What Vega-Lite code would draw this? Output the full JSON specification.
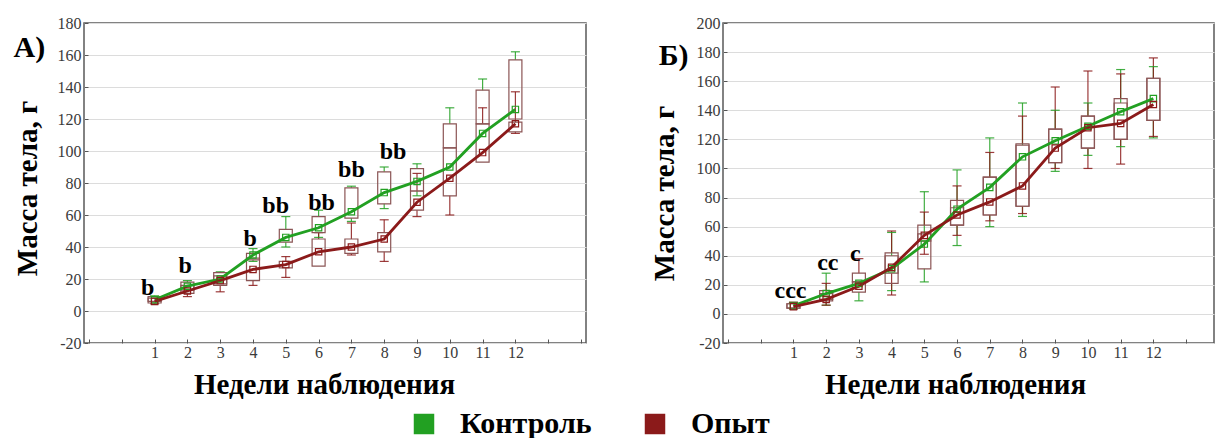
{
"$schema": "https://vega.github.io/schema/vega-lite/v6.json",
"padding": {"left": 12, "top": 14, "right": 2, "bottom": 2},
"background": "white",
"config": {
  "font": "Liberation Serif",
  "view": {"stroke": "#5a5a5a", "strokeWidth": 1.5},
  "axis": {"labelFont": "Liberation Serif", "titleFont": "Liberation Serif", "labelColor": "#3a3a3a", "labelFontSize": 16, "titleFontSize": 29, "titleFontWeight": "bold", "titleColor": "black", "domain": false, "gridColor": "#dcdcdc", "tickColor": "#555555", "tickSize": -4, "labelFlush": false, "labelOverlap": false},
  "concat": {"spacing": 62}
},
"datasets": {
  "stats": [
{"panel":"A","week":1,"group":"Контроль","q1":6,"q3":9,"min":6,"max":9.5,"mean":7},
{"panel":"A","week":1,"group":"Опыт","q1":5,"q3":8,"min":4.5,"max":8,"mean":6},
{"panel":"A","week":2,"group":"Контроль","q1":13,"q3":18,"min":13,"max":19,"mean":15.5},
{"panel":"A","week":2,"group":"Опыт","q1":11,"q3":16,"min":9,"max":16,"mean":12.5},
{"panel":"A","week":3,"group":"Контроль","q1":17,"q3":24,"min":17,"max":24.5,"mean":20},
{"panel":"A","week":3,"group":"Опыт","q1":16,"q3":22,"min":12,"max":22,"mean":19},
{"panel":"A","week":4,"group":"Контроль","q1":32,"q3":36,"min":31,"max":39,"mean":35},
{"panel":"A","week":4,"group":"Опыт","q1":19,"q3":33,"min":16,"max":33,"mean":26},
{"panel":"A","week":5,"group":"Контроль","q1":43,"q3":51,"min":40,"max":59,"mean":46},
{"panel":"A","week":5,"group":"Опыт","q1":27,"q3":31,"min":21,"max":34,"mean":29},
{"panel":"A","week":6,"group":"Контроль","q1":49,"q3":59,"min":46,"max":63,"mean":52},
{"panel":"A","week":6,"group":"Опыт","q1":28,"q3":45,"min":28,"max":49,"mean":37},
{"panel":"A","week":7,"group":"Контроль","q1":58,"q3":77,"min":56,"max":78,"mean":62},
{"panel":"A","week":7,"group":"Опыт","q1":36,"q3":45,"min":35,"max":55,"mean":40},
{"panel":"A","week":8,"group":"Контроль","q1":67,"q3":87,"min":64,"max":90,"mean":74},
{"panel":"A","week":8,"group":"Опыт","q1":37,"q3":49,"min":31,"max":57,"mean":45},
{"panel":"A","week":9,"group":"Контроль","q1":75,"q3":89,"min":72,"max":92,"mean":81},
{"panel":"A","week":9,"group":"Опыт","q1":63,"q3":75,"min":59,"max":86,"mean":68},
{"panel":"A","week":10,"group":"Контроль","q1":102,"q3":117,"min":102,"max":127,"mean":90},
{"panel":"A","week":10,"group":"Опыт","q1":72,"q3":102,"min":60,"max":102,"mean":83},
{"panel":"A","week":11,"group":"Контроль","q1":117,"q3":138,"min":117,"max":145,"mean":111},
{"panel":"A","week":11,"group":"Опыт","q1":93,"q3":117,"min":93,"max":127,"mean":99},
{"panel":"A","week":12,"group":"Контроль","q1":120,"q3":157,"min":120,"max":162,"mean":126},
{"panel":"A","week":12,"group":"Опыт","q1":112,"q3":118,"min":111,"max":137,"mean":117},
{"panel":"B","week":1,"group":"Контроль","q1":4,"q3":7,"min":3.5,"max":8,"mean":5.5},
{"panel":"B","week":1,"group":"Опыт","q1":4,"q3":7,"min":3.5,"max":8,"mean":5},
{"panel":"B","week":2,"group":"Контроль","q1":10,"q3":16,"min":6,"max":28,"mean":14},
{"panel":"B","week":2,"group":"Опыт","q1":9,"q3":14,"min":6,"max":21,"mean":10},
{"panel":"B","week":3,"group":"Контроль","q1":15,"q3":22,"min":9,"max":22,"mean":21},
{"panel":"B","week":3,"group":"Опыт","q1":22,"q3":28,"min":22,"max":38,"mean":19},
{"panel":"B","week":4,"group":"Контроль","q1":21,"q3":40,"min":16,"max":56,"mean":31},
{"panel":"B","week":4,"group":"Опыт","q1":28,"q3":42,"min":13,"max":57,"mean":32},
{"panel":"B","week":5,"group":"Контроль","q1":31,"q3":55,"min":22,"max":84,"mean":48},
{"panel":"B","week":5,"group":"Опыт","q1":50,"q3":61,"min":41,"max":70,"mean":54},
{"panel":"B","week":6,"group":"Контроль","q1":61,"q3":78,"min":47,"max":99,"mean":72},
{"panel":"B","week":6,"group":"Опыт","q1":61,"q3":73,"min":54,"max":88,"mean":68},
{"panel":"B","week":7,"group":"Контроль","q1":68,"q3":94,"min":60,"max":121,"mean":87},
{"panel":"B","week":7,"group":"Опыт","q1":68,"q3":94,"min":64,"max":111,"mean":77},
{"panel":"B","week":8,"group":"Контроль","q1":74,"q3":116,"min":67,"max":145,"mean":108},
{"panel":"B","week":8,"group":"Опыт","q1":74,"q3":117,"min":69,"max":136,"mean":88},
{"panel":"B","week":9,"group":"Контроль","q1":104,"q3":127,"min":98,"max":140,"mean":119},
{"panel":"B","week":9,"group":"Опыт","q1":104,"q3":127,"min":100,"max":156,"mean":114},
{"panel":"B","week":10,"group":"Контроль","q1":114,"q3":136,"min":109,"max":145,"mean":129},
{"panel":"B","week":10,"group":"Опыт","q1":114,"q3":136,"min":100,"max":167,"mean":128},
{"panel":"B","week":11,"group":"Контроль","q1":120,"q3":145,"min":115,"max":168,"mean":139},
{"panel":"B","week":11,"group":"Опыт","q1":120,"q3":148,"min":103,"max":165,"mean":131},
{"panel":"B","week":12,"group":"Контроль","q1":133,"q3":162,"min":121,"max":170,"mean":148},
{"panel":"B","week":12,"group":"Опыт","q1":133,"q3":162,"min":122,"max":176,"mean":144}
  ],
  "notes": [
{"panel":"A","week":0.79,"y":10,"t":"b"},
{"panel":"A","week":1.93,"y":23.5,"t":"b"},
{"panel":"A","week":3.91,"y":40.5,"t":"b"},
{"panel":"A","week":4.69,"y":61,"t":"bb"},
{"panel":"A","week":6.09,"y":63,"t":"bb"},
{"panel":"A","week":7.0,"y":84,"t":"bb"},
{"panel":"A","week":8.27,"y":95,"t":"bb"},
{"panel":"B","week":0.91,"y":11,"t":"ccc"},
{"panel":"B","week":2.05,"y":30,"t":"cc"},
{"panel":"B","week":2.89,"y":36.4,"t":"c"}
  ],
  "tags": [
{"panel":"A","week":-3.3,"y":159,"t":"А)"},
{"panel":"B","week":-3.12,"y":171,"t":"Б)"}
  ]
},
"hconcat": [
{
 "width": 502, "height": 320,
 "data": {"name": "stats"},
 "transform": [{"filter": "datum.panel === 'A'"}],
 "layer": [
  {"mark": {"type": "rule", "strokeWidth": 1.2, "opacity": 0.85},
   "encoding": {
    "x": {"field": "week", "type": "quantitative", "scale": {"domain": [-1, 14], "nice": false, "zero": false},
          "axis": {"values": [-1,0,1,2,3,4,5,6,7,8,9,10,11,12,13,14], "tickCount": 40, "labelExpr": "datum.value >= 1 && datum.value <= 12 ? '' + datum.value : ''", "labelOverlap": false, "labelFont": "Liberation Serif", "labelFontSize": 16, "grid": false, "labelPadding": 5, "title": "Недели наблюдения", "titleX": 240, "titleY": 50, "titleBaseline": "alphabetic", "titleAlign": "center"}},
    "y": {"field": "min", "type": "quantitative", "scale": {"domain": [-20, 180], "nice": false, "zero": false},
          "axis": {"values": [-20,0,20,40,60,80,100,120,140,160,180], "tickCount": 40, "labelExpr": "'' + datum.value", "labelOverlap": false, "labelFont": "Liberation Serif", "labelFontSize": 16, "grid": true, "labelPadding": 7, "title": "Масса тела, г", "titleX": -57, "titleY": 165, "titleBaseline": "middle", "titleAlign": "center"}},
    "y2": {"field": "q1"},
    "color": {"field": "group", "type": "nominal", "scale": {"domain": ["Контроль", "Опыт"], "range": ["#22a022", "#8b1a1a"]},
      "legend": {"title": null, "orient": "none", "legendX": 325, "legendY": 386, "direction": "horizontal", "symbolType": "square", "symbolSize": 420, "labelFont": "Liberation Serif", "labelFontSize": 30, "labelFontWeight": "bold", "labelColor": "black", "labelOffset": 21, "columnPadding": 48, "padding": 0, "encode": {"symbols": {"update": {"fill": {"scale": "color", "field": "value"}, "fillOpacity": {"value": 1}, "strokeWidth": {"value": 0}, "opacity": {"value": 1}}}}}}
   }},
  {"mark": {"type": "rule", "strokeWidth": 1.2, "opacity": 0.85},
   "encoding": {
    "x": {"field": "week", "type": "quantitative"},
    "y": {"field": "q3", "type": "quantitative"},
    "y2": {"field": "max"},
    "color": {"field": "group", "type": "nominal", "scale": {"domain": ["Контроль", "Опыт"], "range": ["#22a022", "#8b1a1a"]},
      "legend": {"title": null, "orient": "none", "legendX": 325, "legendY": 386, "direction": "horizontal", "symbolType": "square", "symbolSize": 420, "labelFont": "Liberation Serif", "labelFontSize": 30, "labelFontWeight": "bold", "labelColor": "black", "labelOffset": 21, "columnPadding": 48, "padding": 0, "encode": {"symbols": {"update": {"fill": {"scale": "color", "field": "value"}, "fillOpacity": {"value": 1}, "strokeWidth": {"value": 0}, "opacity": {"value": 1}}}}}}
   }},
  {"transform": [{"filter": "datum.min < datum.q1"}],
   "mark": {"type": "tick", "orient": "horizontal", "size": 9, "thickness": 1.2, "opacity": 0.85},
   "encoding": {
    "x": {"field": "week", "type": "quantitative"},
    "y": {"field": "min", "type": "quantitative"},
    "color": {"field": "group", "type": "nominal", "scale": {"domain": ["Контроль", "Опыт"], "range": ["#22a022", "#8b1a1a"]},
      "legend": {"title": null, "orient": "none", "legendX": 325, "legendY": 386, "direction": "horizontal", "symbolType": "square", "symbolSize": 420, "labelFont": "Liberation Serif", "labelFontSize": 30, "labelFontWeight": "bold", "labelColor": "black", "labelOffset": 21, "columnPadding": 48, "padding": 0, "encode": {"symbols": {"update": {"fill": {"scale": "color", "field": "value"}, "fillOpacity": {"value": 1}, "strokeWidth": {"value": 0}, "opacity": {"value": 1}}}}}}
   }},
  {"transform": [{"filter": "datum.max > datum.q3"}],
   "mark": {"type": "tick", "orient": "horizontal", "size": 9, "thickness": 1.2, "opacity": 0.85},
   "encoding": {
    "x": {"field": "week", "type": "quantitative"},
    "y": {"field": "max", "type": "quantitative"},
    "color": {"field": "group", "type": "nominal", "scale": {"domain": ["Контроль", "Опыт"], "range": ["#22a022", "#8b1a1a"]},
      "legend": {"title": null, "orient": "none", "legendX": 325, "legendY": 386, "direction": "horizontal", "symbolType": "square", "symbolSize": 420, "labelFont": "Liberation Serif", "labelFontSize": 30, "labelFontWeight": "bold", "labelColor": "black", "labelOffset": 21, "columnPadding": 48, "padding": 0, "encode": {"symbols": {"update": {"fill": {"scale": "color", "field": "value"}, "fillOpacity": {"value": 1}, "strokeWidth": {"value": 0}, "opacity": {"value": 1}}}}}}
   }},
  {"mark": {"type": "bar", "width": 13, "fill": "white", "fillOpacity": 0, "stroke": "#8b5555", "strokeWidth": 1.2},
   "encoding": {
    "x": {"field": "week", "type": "quantitative"},
    "y": {"field": "q1", "type": "quantitative"},
    "y2": {"field": "q3"}
   }},
  {"mark": {"type": "line", "strokeWidth": 2.8},
   "encoding": {
    "x": {"field": "week", "type": "quantitative"},
    "y": {"field": "mean", "type": "quantitative"},
    "color": {"field": "group", "type": "nominal", "scale": {"domain": ["Контроль", "Опыт"], "range": ["#22a022", "#8b1a1a"]},
      "legend": {"title": null, "orient": "none", "legendX": 325, "legendY": 386, "direction": "horizontal", "symbolType": "square", "symbolSize": 420, "labelFont": "Liberation Serif", "labelFontSize": 30, "labelFontWeight": "bold", "labelColor": "black", "labelOffset": 21, "columnPadding": 48, "padding": 0, "encode": {"symbols": {"update": {"fill": {"scale": "color", "field": "value"}, "fillOpacity": {"value": 1}, "strokeWidth": {"value": 0}, "opacity": {"value": 1}}}}}}
   }},
  {"mark": {"type": "point", "shape": "square", "size": 40, "filled": false, "strokeWidth": 1.2, "opacity": 1},
   "encoding": {
    "x": {"field": "week", "type": "quantitative"},
    "y": {"field": "mean", "type": "quantitative"},
    "color": {"field": "group", "type": "nominal", "scale": {"domain": ["Контроль", "Опыт"], "range": ["#22a022", "#8b1a1a"]},
      "legend": {"title": null, "orient": "none", "legendX": 325, "legendY": 386, "direction": "horizontal", "symbolType": "square", "symbolSize": 420, "labelFont": "Liberation Serif", "labelFontSize": 30, "labelFontWeight": "bold", "labelColor": "black", "labelOffset": 21, "columnPadding": 48, "padding": 0, "encode": {"symbols": {"update": {"fill": {"scale": "color", "field": "value"}, "fillOpacity": {"value": 1}, "strokeWidth": {"value": 0}, "opacity": {"value": 1}}}}}}
   }},
  {"data": {"name": "notes"}, "transform": [{"filter": "datum.panel === 'A'"}],
   "mark": {"type": "text", "font": "Liberation Serif", "fontSize": 24, "fontWeight": "bold", "baseline": "alphabetic", "align": "center", "color": "black"},
   "encoding": {
    "x": {"field": "week", "type": "quantitative"},
    "y": {"field": "y", "type": "quantitative"},
    "text": {"field": "t"}
   }},
  {"data": {"name": "tags"}, "transform": [{"filter": "datum.panel === 'A'"}],
   "mark": {"type": "text", "font": "Liberation Serif", "fontSize": 30, "fontWeight": "bold", "baseline": "alphabetic", "align": "left", "color": "black", "clip": false},
   "encoding": {
    "x": {"field": "week", "type": "quantitative"},
    "y": {"field": "y", "type": "quantitative"},
    "text": {"field": "t"}
   }}
 ]
},
{
 "width": 491, "height": 320,
 "data": {"name": "stats"},
 "transform": [{"filter": "datum.panel === 'B'"}],
 "layer": [
  {"mark": {"type": "rule", "strokeWidth": 1.2, "opacity": 0.85},
   "encoding": {
    "x": {"field": "week", "type": "quantitative", "scale": {"domain": [-1, 13.7], "nice": false, "zero": false},
          "axis": {"values": [-1,0,1,2,3,4,5,6,7,8,9,10,11,12,13], "tickCount": 40, "labelExpr": "datum.value >= 1 && datum.value <= 12 ? '' + datum.value : ''", "labelOverlap": false, "labelFont": "Liberation Serif", "labelFontSize": 16, "grid": false, "labelPadding": 5, "title": "Недели наблюдения", "titleX": 232, "titleY": 50, "titleBaseline": "alphabetic", "titleAlign": "center"}},
    "y": {"field": "min", "type": "quantitative", "scale": {"domain": [-20, 200], "nice": false, "zero": false},
          "axis": {"values": [-20,0,20,40,60,80,100,120,140,160,180,200], "tickCount": 40, "labelExpr": "'' + datum.value", "labelOverlap": false, "labelFont": "Liberation Serif", "labelFontSize": 16, "grid": true, "labelPadding": 7, "title": "Масса тела, г", "titleX": -59, "titleY": 170, "titleBaseline": "middle", "titleAlign": "center"}},
    "y2": {"field": "q1"},
    "color": {"field": "group", "type": "nominal", "scale": {"domain": ["Контроль", "Опыт"], "range": ["#22a022", "#8b1a1a"]},
      "legend": {"title": null, "orient": "none", "legendX": 325, "legendY": 386, "direction": "horizontal", "symbolType": "square", "symbolSize": 420, "labelFont": "Liberation Serif", "labelFontSize": 30, "labelFontWeight": "bold", "labelColor": "black", "labelOffset": 21, "columnPadding": 48, "padding": 0, "encode": {"symbols": {"update": {"fill": {"scale": "color", "field": "value"}, "fillOpacity": {"value": 1}, "strokeWidth": {"value": 0}, "opacity": {"value": 1}}}}}}
   }},
  {"mark": {"type": "rule", "strokeWidth": 1.2, "opacity": 0.85},
   "encoding": {
    "x": {"field": "week", "type": "quantitative"},
    "y": {"field": "q3", "type": "quantitative"},
    "y2": {"field": "max"},
    "color": {"field": "group", "type": "nominal", "scale": {"domain": ["Контроль", "Опыт"], "range": ["#22a022", "#8b1a1a"]},
      "legend": {"title": null, "orient": "none", "legendX": 325, "legendY": 386, "direction": "horizontal", "symbolType": "square", "symbolSize": 420, "labelFont": "Liberation Serif", "labelFontSize": 30, "labelFontWeight": "bold", "labelColor": "black", "labelOffset": 21, "columnPadding": 48, "padding": 0, "encode": {"symbols": {"update": {"fill": {"scale": "color", "field": "value"}, "fillOpacity": {"value": 1}, "strokeWidth": {"value": 0}, "opacity": {"value": 1}}}}}}
   }},
  {"transform": [{"filter": "datum.min < datum.q1"}],
   "mark": {"type": "tick", "orient": "horizontal", "size": 9, "thickness": 1.2, "opacity": 0.85},
   "encoding": {
    "x": {"field": "week", "type": "quantitative"},
    "y": {"field": "min", "type": "quantitative"},
    "color": {"field": "group", "type": "nominal", "scale": {"domain": ["Контроль", "Опыт"], "range": ["#22a022", "#8b1a1a"]},
      "legend": {"title": null, "orient": "none", "legendX": 325, "legendY": 386, "direction": "horizontal", "symbolType": "square", "symbolSize": 420, "labelFont": "Liberation Serif", "labelFontSize": 30, "labelFontWeight": "bold", "labelColor": "black", "labelOffset": 21, "columnPadding": 48, "padding": 0, "encode": {"symbols": {"update": {"fill": {"scale": "color", "field": "value"}, "fillOpacity": {"value": 1}, "strokeWidth": {"value": 0}, "opacity": {"value": 1}}}}}}
   }},
  {"transform": [{"filter": "datum.max > datum.q3"}],
   "mark": {"type": "tick", "orient": "horizontal", "size": 9, "thickness": 1.2, "opacity": 0.85},
   "encoding": {
    "x": {"field": "week", "type": "quantitative"},
    "y": {"field": "max", "type": "quantitative"},
    "color": {"field": "group", "type": "nominal", "scale": {"domain": ["Контроль", "Опыт"], "range": ["#22a022", "#8b1a1a"]},
      "legend": {"title": null, "orient": "none", "legendX": 325, "legendY": 386, "direction": "horizontal", "symbolType": "square", "symbolSize": 420, "labelFont": "Liberation Serif", "labelFontSize": 30, "labelFontWeight": "bold", "labelColor": "black", "labelOffset": 21, "columnPadding": 48, "padding": 0, "encode": {"symbols": {"update": {"fill": {"scale": "color", "field": "value"}, "fillOpacity": {"value": 1}, "strokeWidth": {"value": 0}, "opacity": {"value": 1}}}}}}
   }},
  {"mark": {"type": "bar", "width": 13, "fill": "white", "fillOpacity": 0, "stroke": "#8b5555", "strokeWidth": 1.2},
   "encoding": {
    "x": {"field": "week", "type": "quantitative"},
    "y": {"field": "q1", "type": "quantitative"},
    "y2": {"field": "q3"}
   }},
  {"mark": {"type": "line", "strokeWidth": 2.8},
   "encoding": {
    "x": {"field": "week", "type": "quantitative"},
    "y": {"field": "mean", "type": "quantitative"},
    "color": {"field": "group", "type": "nominal", "scale": {"domain": ["Контроль", "Опыт"], "range": ["#22a022", "#8b1a1a"]},
      "legend": {"title": null, "orient": "none", "legendX": 325, "legendY": 386, "direction": "horizontal", "symbolType": "square", "symbolSize": 420, "labelFont": "Liberation Serif", "labelFontSize": 30, "labelFontWeight": "bold", "labelColor": "black", "labelOffset": 21, "columnPadding": 48, "padding": 0, "encode": {"symbols": {"update": {"fill": {"scale": "color", "field": "value"}, "fillOpacity": {"value": 1}, "strokeWidth": {"value": 0}, "opacity": {"value": 1}}}}}}
   }},
  {"mark": {"type": "point", "shape": "square", "size": 40, "filled": false, "strokeWidth": 1.2, "opacity": 1},
   "encoding": {
    "x": {"field": "week", "type": "quantitative"},
    "y": {"field": "mean", "type": "quantitative"},
    "color": {"field": "group", "type": "nominal", "scale": {"domain": ["Контроль", "Опыт"], "range": ["#22a022", "#8b1a1a"]},
      "legend": {"title": null, "orient": "none", "legendX": 325, "legendY": 386, "direction": "horizontal", "symbolType": "square", "symbolSize": 420, "labelFont": "Liberation Serif", "labelFontSize": 30, "labelFontWeight": "bold", "labelColor": "black", "labelOffset": 21, "columnPadding": 48, "padding": 0, "encode": {"symbols": {"update": {"fill": {"scale": "color", "field": "value"}, "fillOpacity": {"value": 1}, "strokeWidth": {"value": 0}, "opacity": {"value": 1}}}}}}
   }},
  {"data": {"name": "notes"}, "transform": [{"filter": "datum.panel === 'B'"}],
   "mark": {"type": "text", "font": "Liberation Serif", "fontSize": 24, "fontWeight": "bold", "baseline": "alphabetic", "align": "center", "color": "black"},
   "encoding": {
    "x": {"field": "week", "type": "quantitative"},
    "y": {"field": "y", "type": "quantitative"},
    "text": {"field": "t"}
   }},
  {"data": {"name": "tags"}, "transform": [{"filter": "datum.panel === 'B'"}],
   "mark": {"type": "text", "font": "Liberation Serif", "fontSize": 30, "fontWeight": "bold", "baseline": "alphabetic", "align": "left", "color": "black", "clip": false},
   "encoding": {
    "x": {"field": "week", "type": "quantitative"},
    "y": {"field": "y", "type": "quantitative"},
    "text": {"field": "t"}
   }}
 ]
}
]
}
